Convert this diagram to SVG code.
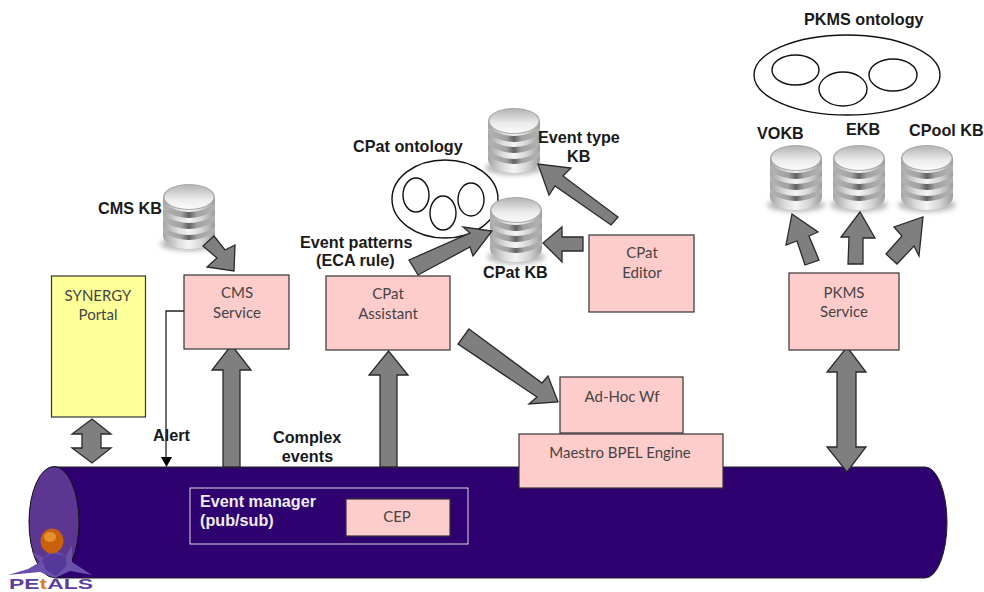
<svg xmlns="http://www.w3.org/2000/svg" xmlns:xlink="http://www.w3.org/1999/xlink" width="984" height="592" viewBox="0 0 984 592">
<style>
text{font-family:"Liberation Sans",Arial,sans-serif;fill:#1a1a1a}
.b{font-weight:bold;font-size:16.2px}
.m{text-anchor:middle}
.n{font-family:Lato,"Open Sans",sans-serif;font-size:15px;fill:#444;text-anchor:middle}
.box{fill:#ffcccc;stroke:#333;stroke-width:1.2}
.arr{fill:#7f7f7f;stroke:#2a2a2a;stroke-width:1.3;stroke-linejoin:miter}
.el{fill:none;stroke:#111;stroke-width:1.4}
</style>
<defs>
<filter id="soft" x="-30%" y="-100%" width="160%" height="300%"><feGaussianBlur stdDeviation="2.500"/></filter>
<linearGradient id="dbg" x1="0" x2="1" y1="0" y2="0">
<stop offset="0" stop-color="#a4a4a4"/><stop offset=".3" stop-color="#dedede"/><stop offset=".5" stop-color="#f4f4f4"/><stop offset=".75" stop-color="#d4d4d4"/><stop offset="1" stop-color="#9c9c9c"/>
</linearGradient>
<linearGradient id="dbb" x1="0" x2="1" y1="0" y2="0">
<stop offset="0" stop-color="#b2b2b2"/><stop offset=".35" stop-color="#a2a2a2"/><stop offset=".5" stop-color="#626262"/><stop offset=".65" stop-color="#a2a2a2"/><stop offset="1" stop-color="#b2b2b2"/>
</linearGradient>
<linearGradient id="top" x1="0" x2="0" y1="0" y2="1">
<stop offset="0" stop-color="#b4b4b4"/><stop offset=".6" stop-color="#ececec"/><stop offset="1" stop-color="#fafafa"/>
</linearGradient>
<g id="db">
<ellipse cx="26" cy="60" rx="29" ry="7" fill="#777" opacity=".5" filter="url(#soft)"/>
<path d="M0 13V51C0 60 12 65 26 65S52 60 52 51V13Z" fill="url(#dbg)"/>
<path d="M0 20Q26 36 52 20V26Q26 42 0 26Z" fill="url(#dbb)"/>
<path d="M0 31Q26 47 52 31V37Q26 53 0 37Z" fill="url(#dbb)"/>
<path d="M0 43Q26 59 52 43V48Q26 64 0 48Z" fill="url(#dbb)"/>
<ellipse cx="26" cy="13" rx="26" ry="13" fill="#a9a9a9"/>
<ellipse cx="26" cy="13" rx="24.500" ry="12" fill="url(#top)"/>
</g>
</defs>
<rect width="984" height="592" fill="#fff"/>

<g id="bus">
<path d="M54 467H925A22 55.500 0 0 1 925 578H54Z" fill="#2e0070" stroke="#222" stroke-width="1"/>
<ellipse cx="54" cy="522" rx="25" ry="55.500" fill="#5c3690" stroke="#111" stroke-width="1"/>
</g>

<g id="logo">
<path d="M8 575L28 569 40 562 32 552 44 558 50 552 58 552 66 556 72 545 72 562 92 575 70 571 55 578 40 572Z" fill="#6a50aa"/>
<path d="M42 560L52 553 66 556 66 566 56 576 46 570Z" fill="#54389a"/>
<ellipse cx="52" cy="541" rx="11.500" ry="12.500" fill="#c8600c"/>
<ellipse cx="50" cy="537" rx="6" ry="5" fill="#e8902c"/>
<text x="9" y="589" textLength="84" lengthAdjust="spacingAndGlyphs" style="font-size:14px;font-weight:bold;fill:#5c3f9c">PE<tspan style="fill:#d8822a">t</tspan>ALS</text>
</g>

<g id="o-cpat"><ellipse class="el" cx="445" cy="199" rx="53" ry="39"/><ellipse class="el" cx="416" cy="195" rx="13" ry="17"/><ellipse class="el" cx="443" cy="213" rx="13" ry="17"/><ellipse class="el" cx="471" cy="199.500" rx="13" ry="16.500"/></g>
<g id="o-pkms"><ellipse class="el" cx="847" cy="75" rx="93" ry="40"/><ellipse class="el" cx="795.500" cy="70" rx="23.500" ry="15"/><ellipse class="el" cx="843" cy="89" rx="24" ry="17"/><ellipse class="el" cx="893" cy="75" rx="24" ry="16"/></g>

<use id="db-cms" xlink:href="#db" href="#db" x="163" y="184"/>
<use id="db-evt" xlink:href="#db" href="#db" x="488" y="108"/>
<use id="db-cpat" xlink:href="#db" href="#db" x="490" y="197"/>
<use id="db-vo" xlink:href="#db" href="#db" x="770" y="145"/>
<use id="db-e" xlink:href="#db" href="#db" x="833" y="145"/>
<use id="db-cp" xlink:href="#db" href="#db" x="901" y="145"/>

<g id="connectors">
<path class="arr" d="M92 419L111 434H101V448H111L92 463 72 448H82V434H72Z"/>
<path class="arr" d="M231.500 345L251 370H240V467H223V370H212Z"/>
<path class="arr" d="M388.500 351L408 375H397V467H380V375H369Z"/>
<path class="arr" d="M847 347L866 372H856V447H866L847 472 827 447H837V372H827Z"/>
<path class="arr" d="M203 246L214 236 225 250 235 245 234 271 207 267 217 258Z"/>
<path class="arr" d="M409 260L470 233 463 227 492 231 473 256 470 247 418 275Z"/>
<path class="arr" d="M583 237V251H562V262L543 243 562 227V237Z"/>
<path class="arr" d="M618 217L611 225 555 186 549 195 538 164 571 168 563 176Z"/>
<path class="arr" d="M469 329L542 383 548 376 558 402 529 404 537 397 458 344Z"/>
<path class="arr" d="M805 265L797 241 786 245 792 214 818 232 809 236 819 260Z"/>
<path class="arr" d="M848 264L849 237H841L860 212 875 238H863V264Z"/>
<path class="arr" d="M886 254L902 236 894 227 923 217 919 256 914 246 897 264Z"/>
<path d="M184 311H166V458" fill="none" stroke="#222" stroke-width="1.300"/>
<path d="M161 457H172L166.500 467Z" fill="#000"/>
</g>

<g id="n-portal"><rect x="51.500" y="276" width="94" height="141" fill="#ffff99" stroke="#333" stroke-width="1.200"/><text class="n" x="98" y="301">SYNERGY</text><text class="n" x="98" y="320">Portal</text></g>
<g id="n-cms"><rect class="box" x="184" y="275" width="105" height="74"/><text class="n" x="237" y="298">CMS</text><text class="n" x="237" y="318">Service</text></g>
<g id="n-assistant"><rect class="box" x="326" y="276" width="124" height="74"/><text class="n" x="388" y="299">CPat</text><text class="n" x="388" y="319">Assistant</text></g>
<g id="n-editor"><rect class="box" x="589" y="235" width="105" height="77"/><text class="n" x="642" y="258">CPat</text><text class="n" x="642" y="278">Editor</text></g>
<g id="n-pkms"><rect class="box" x="789" y="273" width="110" height="77"/><text class="n" x="844" y="298">PKMS</text><text class="n" x="844" y="317">Service</text></g>
<g id="n-adhoc"><rect class="box" x="560" y="377" width="123" height="56"/><text class="n" x="622" y="402">Ad-Hoc Wf</text></g>
<g id="n-maestro"><rect class="box" x="519" y="434" width="204" height="54"/><text class="n" x="620" y="458">Maestro BPEL Engine</text></g>
<g id="n-evm"><rect x="190" y="488" width="278" height="56" fill="none" stroke="#ddd"/><text class="b" x="200" y="507" style="fill:#eee">Event manager</text><text class="b" x="200" y="526" style="fill:#eee">(pub/sub)</text></g>
<g id="n-cep"><rect class="box" x="346" y="499" width="104" height="37"/><text class="n" x="397" y="522">CEP</text></g>

<g id="labels">
<text class="b" x="98" y="214">CMS KB</text>
<text class="b" x="353" y="152">CPat ontology</text>
<text class="b" x="538" y="143">Event type</text>
<text class="b" x="567" y="162">KB</text>
<text class="b" x="300" y="248">Event patterns</text>
<text class="b" x="316" y="266">(ECA rule)</text>
<text class="b" x="483" y="278">CPat KB</text>
<text class="b" x="804" y="25">PKMS ontology</text>
<text class="b" x="757" y="139">VOKB</text>
<text class="b" x="846" y="135">EKB</text>
<text class="b" x="909" y="136">CPool KB</text>
<text class="b" x="153" y="441">Alert</text>
<text class="b" x="273" y="443">Complex</text>
<text class="b m" x="307.500" y="462">events</text>
</g>
</svg>
